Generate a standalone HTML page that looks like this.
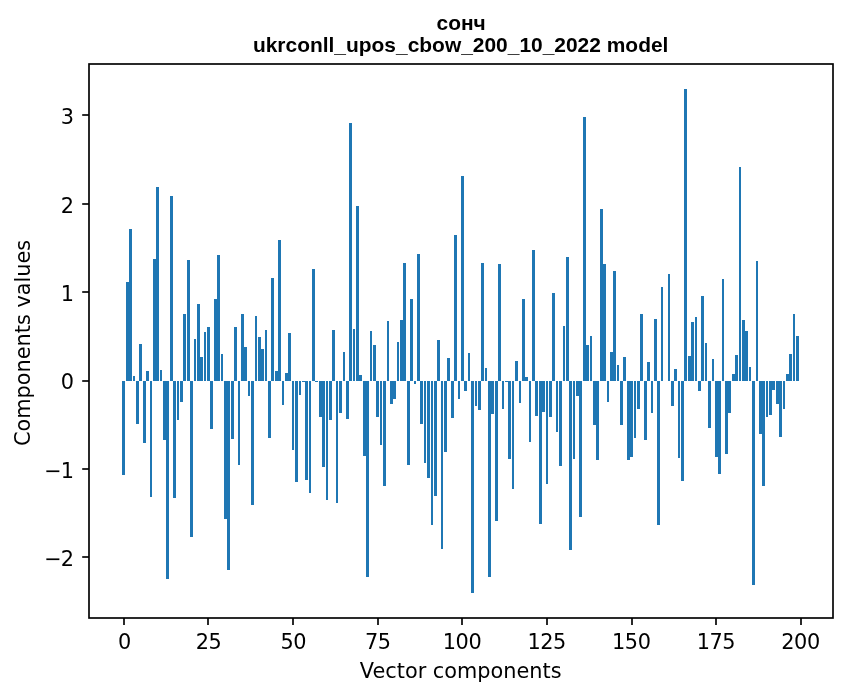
<!DOCTYPE html>
<html><head><meta charset="utf-8"><title>сонч</title>
<style>
html,body{margin:0;padding:0;background:#fff;}
svg{display:block}
.t{font-family:"DejaVu Sans","Liberation Sans",sans-serif;font-size:20.83px;fill:#000}
.ti{font-family:"Liberation Sans",sans-serif;font-weight:bold;font-size:20.95px;fill:#000}
</style></head><body>
<svg width="847" height="696" viewBox="0 0 847 696">
<rect width="847" height="696" fill="#fff"/>

<g fill="#1f77b4" shape-rendering="crispEdges">
<rect x="122" y="381" width="3" height="94"/>
<rect x="126" y="282" width="3" height="99"/>
<rect x="129" y="229" width="3" height="152"/>
<rect x="133" y="376" width="2" height="5"/>
<rect x="136" y="381" width="3" height="43"/>
<rect x="139" y="344" width="3" height="37"/>
<rect x="143" y="381" width="3" height="62"/>
<rect x="146" y="371" width="3" height="10"/>
<rect x="150" y="381" width="2" height="116"/>
<rect x="153" y="259" width="3" height="122"/>
<rect x="156" y="187" width="3" height="194"/>
<rect x="160" y="370" width="2" height="11"/>
<rect x="163" y="381" width="3" height="59"/>
<rect x="166" y="381" width="3" height="198"/>
<rect x="170" y="196" width="3" height="185"/>
<rect x="173" y="381" width="3" height="117"/>
<rect x="177" y="381" width="2" height="39"/>
<rect x="180" y="381" width="3" height="21"/>
<rect x="183" y="314" width="3" height="67"/>
<rect x="187" y="260" width="3" height="121"/>
<rect x="190" y="381" width="3" height="156"/>
<rect x="194" y="339" width="2" height="42"/>
<rect x="197" y="304" width="3" height="77"/>
<rect x="200" y="357" width="3" height="24"/>
<rect x="204" y="332" width="2" height="49"/>
<rect x="207" y="327" width="3" height="54"/>
<rect x="210" y="381" width="3" height="48"/>
<rect x="214" y="299" width="3" height="82"/>
<rect x="217" y="255" width="3" height="126"/>
<rect x="221" y="354" width="2" height="27"/>
<rect x="224" y="381" width="3" height="138"/>
<rect x="227" y="381" width="3" height="189"/>
<rect x="231" y="381" width="3" height="58"/>
<rect x="234" y="327" width="3" height="54"/>
<rect x="238" y="381" width="2" height="84"/>
<rect x="241" y="314" width="3" height="67"/>
<rect x="244" y="347" width="3" height="34"/>
<rect x="248" y="381" width="2" height="15"/>
<rect x="251" y="381" width="3" height="124"/>
<rect x="255" y="316" width="2" height="65"/>
<rect x="258" y="337" width="3" height="44"/>
<rect x="261" y="349" width="3" height="32"/>
<rect x="265" y="330" width="2" height="51"/>
<rect x="268" y="381" width="3" height="57"/>
<rect x="271" y="278" width="3" height="103"/>
<rect x="275" y="371" width="3" height="10"/>
<rect x="278" y="240" width="3" height="141"/>
<rect x="282" y="381" width="2" height="24"/>
<rect x="285" y="373" width="3" height="8"/>
<rect x="288" y="333" width="3" height="48"/>
<rect x="292" y="381" width="2" height="69"/>
<rect x="295" y="381" width="3" height="101"/>
<rect x="299" y="381" width="2" height="14"/>
<rect x="302" y="381" width="3" height="1"/>
<rect x="305" y="381" width="3" height="99"/>
<rect x="309" y="381" width="2" height="112"/>
<rect x="312" y="269" width="3" height="112"/>
<rect x="315" y="381" width="3" height="1"/>
<rect x="319" y="381" width="3" height="36"/>
<rect x="322" y="381" width="3" height="86"/>
<rect x="326" y="381" width="2" height="119"/>
<rect x="329" y="381" width="3" height="39"/>
<rect x="332" y="330" width="3" height="51"/>
<rect x="336" y="381" width="2" height="122"/>
<rect x="339" y="381" width="3" height="32"/>
<rect x="343" y="352" width="2" height="29"/>
<rect x="346" y="381" width="3" height="38"/>
<rect x="349" y="123" width="3" height="258"/>
<rect x="353" y="329" width="2" height="52"/>
<rect x="356" y="206" width="3" height="175"/>
<rect x="359" y="375" width="3" height="6"/>
<rect x="363" y="381" width="3" height="75"/>
<rect x="366" y="381" width="3" height="196"/>
<rect x="370" y="331" width="2" height="50"/>
<rect x="373" y="345" width="3" height="36"/>
<rect x="376" y="381" width="3" height="36"/>
<rect x="380" y="381" width="2" height="64"/>
<rect x="383" y="381" width="3" height="105"/>
<rect x="387" y="321" width="2" height="60"/>
<rect x="390" y="381" width="3" height="23"/>
<rect x="393" y="381" width="3" height="18"/>
<rect x="397" y="342" width="2" height="39"/>
<rect x="400" y="320" width="3" height="61"/>
<rect x="403" y="263" width="3" height="118"/>
<rect x="407" y="381" width="3" height="84"/>
<rect x="410" y="299" width="3" height="82"/>
<rect x="414" y="381" width="2" height="3"/>
<rect x="417" y="254" width="3" height="127"/>
<rect x="420" y="381" width="3" height="43"/>
<rect x="424" y="381" width="2" height="82"/>
<rect x="427" y="381" width="3" height="97"/>
<rect x="431" y="381" width="2" height="144"/>
<rect x="434" y="381" width="3" height="115"/>
<rect x="437" y="340" width="3" height="41"/>
<rect x="441" y="381" width="2" height="168"/>
<rect x="444" y="381" width="3" height="71"/>
<rect x="447" y="358" width="3" height="23"/>
<rect x="451" y="381" width="3" height="37"/>
<rect x="454" y="235" width="3" height="146"/>
<rect x="458" y="381" width="2" height="18"/>
<rect x="461" y="176" width="3" height="205"/>
<rect x="464" y="381" width="3" height="10"/>
<rect x="468" y="353" width="2" height="28"/>
<rect x="471" y="381" width="3" height="212"/>
<rect x="475" y="381" width="2" height="25"/>
<rect x="478" y="381" width="3" height="29"/>
<rect x="481" y="263" width="3" height="118"/>
<rect x="485" y="368" width="2" height="13"/>
<rect x="488" y="381" width="3" height="196"/>
<rect x="491" y="381" width="3" height="33"/>
<rect x="495" y="381" width="3" height="140"/>
<rect x="498" y="264" width="3" height="117"/>
<rect x="502" y="381" width="2" height="28"/>
<rect x="505" y="381" width="3" height="1"/>
<rect x="508" y="381" width="3" height="78"/>
<rect x="512" y="381" width="2" height="108"/>
<rect x="515" y="361" width="3" height="20"/>
<rect x="519" y="381" width="2" height="22"/>
<rect x="522" y="299" width="3" height="82"/>
<rect x="525" y="377" width="3" height="4"/>
<rect x="529" y="381" width="2" height="61"/>
<rect x="532" y="250" width="3" height="131"/>
<rect x="535" y="381" width="3" height="35"/>
<rect x="539" y="381" width="3" height="143"/>
<rect x="542" y="381" width="3" height="31"/>
<rect x="546" y="381" width="2" height="103"/>
<rect x="549" y="381" width="3" height="36"/>
<rect x="552" y="293" width="3" height="88"/>
<rect x="556" y="381" width="2" height="51"/>
<rect x="559" y="381" width="3" height="85"/>
<rect x="563" y="326" width="2" height="55"/>
<rect x="566" y="257" width="3" height="124"/>
<rect x="569" y="381" width="3" height="169"/>
<rect x="573" y="381" width="2" height="78"/>
<rect x="576" y="381" width="3" height="15"/>
<rect x="579" y="381" width="3" height="136"/>
<rect x="583" y="117" width="3" height="264"/>
<rect x="586" y="345" width="3" height="36"/>
<rect x="590" y="336" width="2" height="45"/>
<rect x="593" y="381" width="3" height="44"/>
<rect x="596" y="381" width="3" height="79"/>
<rect x="600" y="209" width="3" height="172"/>
<rect x="603" y="264" width="3" height="117"/>
<rect x="607" y="381" width="2" height="21"/>
<rect x="610" y="352" width="3" height="29"/>
<rect x="613" y="271" width="3" height="110"/>
<rect x="617" y="365" width="2" height="16"/>
<rect x="620" y="381" width="3" height="44"/>
<rect x="623" y="357" width="3" height="24"/>
<rect x="627" y="381" width="3" height="79"/>
<rect x="630" y="381" width="3" height="76"/>
<rect x="634" y="381" width="2" height="57"/>
<rect x="637" y="381" width="3" height="28"/>
<rect x="640" y="314" width="3" height="67"/>
<rect x="644" y="381" width="3" height="59"/>
<rect x="647" y="362" width="3" height="19"/>
<rect x="651" y="381" width="2" height="32"/>
<rect x="654" y="319" width="3" height="62"/>
<rect x="657" y="381" width="3" height="144"/>
<rect x="661" y="287" width="2" height="94"/>
<rect x="668" y="274" width="2" height="107"/>
<rect x="671" y="381" width="3" height="25"/>
<rect x="674" y="369" width="3" height="12"/>
<rect x="678" y="381" width="2" height="77"/>
<rect x="681" y="381" width="3" height="100"/>
<rect x="684" y="89" width="3" height="292"/>
<rect x="688" y="356" width="3" height="25"/>
<rect x="691" y="322" width="3" height="59"/>
<rect x="695" y="317" width="2" height="64"/>
<rect x="698" y="381" width="3" height="10"/>
<rect x="701" y="296" width="3" height="85"/>
<rect x="705" y="343" width="2" height="38"/>
<rect x="708" y="381" width="3" height="47"/>
<rect x="712" y="359" width="2" height="22"/>
<rect x="715" y="381" width="3" height="76"/>
<rect x="718" y="381" width="3" height="93"/>
<rect x="722" y="279" width="2" height="102"/>
<rect x="725" y="381" width="3" height="73"/>
<rect x="728" y="381" width="3" height="32"/>
<rect x="732" y="374" width="3" height="7"/>
<rect x="735" y="355" width="3" height="26"/>
<rect x="739" y="167" width="2" height="214"/>
<rect x="742" y="320" width="3" height="61"/>
<rect x="745" y="331" width="3" height="50"/>
<rect x="749" y="367" width="2" height="14"/>
<rect x="752" y="381" width="3" height="204"/>
<rect x="756" y="261" width="2" height="120"/>
<rect x="759" y="381" width="3" height="53"/>
<rect x="762" y="381" width="3" height="105"/>
<rect x="766" y="381" width="2" height="36"/>
<rect x="769" y="381" width="3" height="34"/>
<rect x="772" y="381" width="3" height="9"/>
<rect x="776" y="381" width="3" height="23"/>
<rect x="779" y="381" width="3" height="56"/>
<rect x="783" y="381" width="2" height="28"/>
<rect x="786" y="374" width="3" height="7"/>
<rect x="789" y="354" width="3" height="27"/>
<rect x="793" y="314" width="2" height="67"/>
<rect x="796" y="336" width="3" height="45"/>
</g>
<rect x="89" y="64" width="744" height="554" fill="none" stroke="#000" stroke-width="1.67" stroke-linejoin="miter"/>
<g stroke="#000" stroke-width="1.67">
<line x1="124" y1="618.00" x2="124" y2="625.00"/>
<line x1="208" y1="618.00" x2="208" y2="625.00"/>
<line x1="293" y1="618.00" x2="293" y2="625.00"/>
<line x1="378" y1="618.00" x2="378" y2="625.00"/>
<line x1="462" y1="618.00" x2="462" y2="625.00"/>
<line x1="547" y1="618.00" x2="547" y2="625.00"/>
<line x1="632" y1="618.00" x2="632" y2="625.00"/>
<line x1="716" y1="618.00" x2="716" y2="625.00"/>
<line x1="801" y1="618.00" x2="801" y2="625.00"/>
<line x1="82.20" y1="557" x2="89.00" y2="557"/>
<line x1="82.20" y1="469" x2="89.00" y2="469"/>
<line x1="82.20" y1="381" x2="89.00" y2="381"/>
<line x1="82.20" y1="292" x2="89.00" y2="292"/>
<line x1="82.20" y1="204" x2="89.00" y2="204"/>
<line x1="82.20" y1="115" x2="89.00" y2="115"/>
</g>
<text class="t" x="124.44" y="649.00" text-anchor="middle" letter-spacing="-0.45">0</text>
<text class="t" x="208.57" y="649.00" text-anchor="middle" letter-spacing="-0.45">25</text>
<text class="t" x="293.20" y="649.00" text-anchor="middle" letter-spacing="-0.45">50</text>
<text class="t" x="377.83" y="649.00" text-anchor="middle" letter-spacing="-0.45">75</text>
<text class="t" x="462.01" y="649.00" text-anchor="middle" letter-spacing="-0.45">100</text>
<text class="t" x="546.64" y="649.00" text-anchor="middle" letter-spacing="-0.45">125</text>
<text class="t" x="631.27" y="649.00" text-anchor="middle" letter-spacing="-0.45">150</text>
<text class="t" x="715.90" y="649.00" text-anchor="middle" letter-spacing="-0.45">175</text>
<text class="t" x="800.53" y="649.00" text-anchor="middle" letter-spacing="-0.45">200</text>
<text class="t" x="74.07" y="566.30" text-anchor="end"><tspan letter-spacing="-0.9">−</tspan>2</text>
<text class="t" x="74.07" y="477.85" text-anchor="end"><tspan letter-spacing="-0.9">−</tspan>1</text>
<text class="t" x="74.07" y="389.40" text-anchor="end">0</text>
<text class="t" x="74.07" y="300.95" text-anchor="end">1</text>
<text class="t" x="74.07" y="212.50" text-anchor="end">2</text>
<text class="t" x="74.07" y="124.05" text-anchor="end">3</text>
<text class="t" x="460.67" y="677.50" text-anchor="middle">Vector components</text>
<text class="t" transform="translate(30.00,342.90) rotate(-90)" text-anchor="middle">Components values</text>
<text class="ti" x="461.17" y="29.70" text-anchor="middle">сонч</text>
<text class="ti" x="460.67" y="51.80" text-anchor="middle">ukrconll_upos_cbow_200_10_2022 model</text>
</svg></body></html>
